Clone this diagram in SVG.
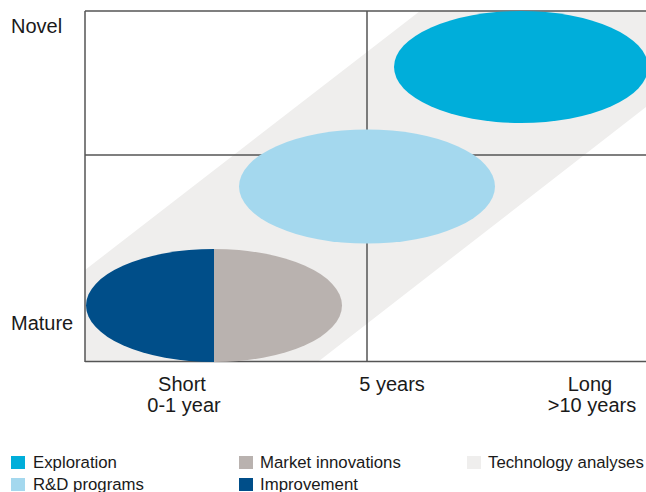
<svg xmlns="http://www.w3.org/2000/svg" width="646" height="492" viewBox="0 0 646 492">
<style>
text{font-family:"Liberation Sans",Arial,sans-serif;fill:#1a1a1a}
.ax{font-size:20px}
.lg{font-size:16.8px}
.grid{stroke:#555;stroke-width:1.5;fill:none}
</style>
<rect width="646" height="492" fill="#fff"/>
<polygon id="band" points="85,270 420,11 646,11 646,107 319,361 85,361" fill="#efeeed"/>
<g id="grid" class="grid">
<line x1="85" y1="11" x2="646" y2="11"/>
<line x1="85" y1="155" x2="646" y2="155"/>
<line x1="85" y1="361.5" x2="646" y2="361.5"/>
<line x1="85" y1="11" x2="85" y2="362"/>
<line x1="367" y1="11" x2="367" y2="362"/>
</g>
<g id="exploration"><ellipse cx="521" cy="67" rx="127" ry="56" fill="#00aeda"/></g>
<g id="rnd"><ellipse cx="367" cy="186.5" rx="128" ry="57" fill="#a4d8ee"/></g>
<g id="mature-ellipse">
<path d="M214,249 A128,56.5 0 0 0 214,362 Z" fill="#004e89"/>
<path d="M214,249 A128,56.5 0 0 1 214,362 Z" fill="#b9b2af"/>
</g>
<g id="axis-labels" class="ax">
<text x="11" y="33">Novel</text>
<text x="11" y="330">Mature</text>
<text x="182" y="391" text-anchor="middle">Short</text>
<text x="184" y="412" text-anchor="middle">0-1 year</text>
<text x="392" y="391" text-anchor="middle">5 years</text>
<text x="590" y="391" text-anchor="middle">Long</text>
<text x="592" y="412" text-anchor="middle">&gt;10 years</text>
</g>
<g id="legend" class="lg">
<rect x="11" y="456" width="14" height="13" fill="#00aeda"/>
<text x="33" y="468">Exploration</text>
<rect x="11" y="478" width="14" height="13" fill="#a4d8ee"/>
<text x="33" y="490">R&amp;D programs</text>
<rect x="239" y="456" width="14" height="13" fill="#b9b2af"/>
<text x="260" y="468">Market innovations</text>
<rect x="239" y="478" width="14" height="13" fill="#004e89"/>
<text x="260" y="490">Improvement</text>
<rect x="467" y="456" width="14" height="13" fill="#efeeed"/>
<text x="488" y="468">Technology analyses</text>
</g>
</svg>
